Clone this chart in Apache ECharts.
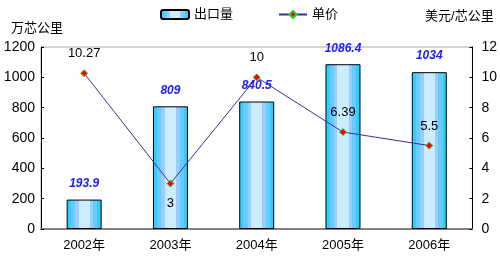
<!DOCTYPE html>
<html><head><meta charset="utf-8">
<script src="https://cdn.jsdelivr.net/npm/echarts@6/dist/echarts.min.js"></script>
<style>html,body{margin:0;padding:0;background:#fff}#c{width:500px;height:263px}</style>
</head><body><div id="c"></div>
<script>
const categories = ['2002年','2003年','2004年','2005年','2006年'];
const exportVolume = [193.9, 809, 840.5, 1086.4, 1034];
const unitPrice = [10.27, 3, 10, 6.39, 5.5];
const leftTicks = [0, 200, 400, 600, 800, 1000, 1200];
const rightTicks = [0, 2, 4, 6, 8, 10, 12];
const priceLabelPos = ['top','bottom','top','top','top'];

const FONT = '"Liberation Sans", "Noto Sans CJK SC", sans-serif';
const barGrad = new echarts.graphic.LinearGradient(0,0,1,0,[
  {offset:0,color:'#33ccff'},{offset:0.12,color:'#33ccff'},
  {offset:0.12,color:'#66ccff'},{offset:0.24,color:'#66ccff'},
  {offset:0.24,color:'#99ccff'},{offset:0.34,color:'#99ccff'},
  {offset:0.34,color:'#ccecff'},{offset:0.66,color:'#ccecff'},
  {offset:0.66,color:'#99ccff'},{offset:0.76,color:'#99ccff'},
  {offset:0.76,color:'#66ccff'},{offset:0.88,color:'#66ccff'},
  {offset:0.88,color:'#33ccff'},{offset:1,color:'#33ccff'}
]);

const chart = echarts.init(document.getElementById('c'), null, {renderer:'canvas'});
chart.setOption({
  animation:false,
  textStyle:{fontFamily:FONT},
  legend:{
    top:3, left:155, itemGap:45, itemWidth:28, itemHeight:9,
    textStyle:{fontSize:13, color:'#000', fontFamily:FONT},
    data:['出口量','单价']
  },
  grid:{left:41, right:24, top:47, bottom:34, show:true, borderColor:'#aaaaaa', borderWidth:1},
  xAxis:{
    type:'category', data:categories,
    axisLine:{lineStyle:{color:'#808080', width:2}},
    axisTick:{inside:true, length:4, lineStyle:{color:'#000'}},
    axisLabel:{color:'#000', fontSize:13, margin:10, fontFamily:FONT}
  },
  yAxis:[{
    type:'value', min:0, max:1200, interval:200,
    name:'万芯公里', nameLocation:'end', nameGap:12,
    nameTextStyle:{fontSize:13, color:'#000', padding:[0,8,0,0], fontFamily:FONT},
    axisLine:{show:true, lineStyle:{color:'#000'}},
    axisTick:{show:true, inside:true, length:3, lineStyle:{color:'#000'}},
    splitLine:{show:false},
    axisLabel:{color:'#000', fontSize:14, margin:6, fontFamily:FONT,
      formatter:(v)=>String(leftTicks.includes(v)?v:v)}
  },{
    type:'value', min:0, max:12, interval:2, position:'right',
    name:'美元/芯公里', nameLocation:'end', nameGap:24,
    nameTextStyle:{fontSize:13, color:'#000', padding:[0,26,0,0], fontFamily:FONT},
    axisLine:{show:true, lineStyle:{color:'#000'}},
    axisTick:{show:true, inside:true, length:3, lineStyle:{color:'#000'}},
    splitLine:{show:false},
    axisLabel:{color:'#000', fontSize:14, margin:9, fontFamily:FONT,
      formatter:(v)=>String(rightTicks.includes(v)?v:v)}
  }],
  series:[{
    name:'出口量', type:'bar', yAxisIndex:0, data:exportVolume, barWidth:35,
    itemStyle:{color:barGrad, borderColor:'#000', borderWidth:1},
    label:{show:true, position:'top', distance:10, color:'#2020ff', fontStyle:'italic', fontWeight:'bold', fontSize:12, fontFamily:FONT}
  },{
    name:'单价', type:'line', yAxisIndex:1,
    data:unitPrice.map((v,i)=>({value:v, label:{position:priceLabelPos[i]}})),
    lineStyle:{color:'#333399', width:1},
    symbol:'diamond', symbolSize:7,
    itemStyle:{color:'#ff0000', borderColor:'#33cc33', borderWidth:1},
    label:{show:true, distance:9, color:'#000', fontSize:13, fontFamily:FONT},
    z:5
  }]
});
</script></body></html>
